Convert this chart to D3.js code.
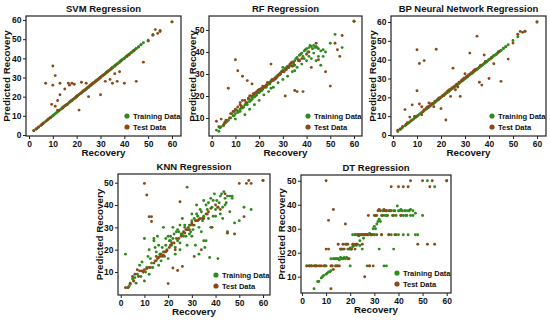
<!DOCTYPE html>
<html>
<head>
<meta charset="utf-8">
<script src="https://cdn.jsdelivr.net/npm/d3@7"></script>
<style>
  body { margin: 0; background: #fff; }
  svg text { font-family: "Liberation Sans", Arial, sans-serif; font-weight: bold; }
</style>
</head>
<body>
<div id="chart"></div>
<script>
// actual recovery values (shared by all models)
const trainRecovery = [2,3,3.5,4,5,5.5,6,7,8,8.5,9,10,10.5,11,12,12.5,13,14,15,15.5,16,17,17.5,18,19,19.5,20,21,21.5,22,23,23.5,24,25,25.5,26,27,27.5,28,29,29.5,30,31,31.5,32,33,33.5,34,35,35.5,36,37,37.5,38,39,39.5,40,41,41.5,42,43,43.5,44,45,46,47,48,50,52,55,60,14,18,20,22,24,26,28,30,32,34,36,38,40,42,44,46,10,16,25,
  6.5,9.5,11.5,13.5,14.5,16.5,18.5,20.5,22.5,24.5,26.5,28.5,30.5,32.5,34.5,36.5,38.5,40.5,42.5,44.5,12,15,17,19,21,23,25,27,29,31,33,35,37,39,41,43,45,47,30,35];
const testRecovery = [2,4,5,6,7,8,9,10,10,11,11,12,12,13,13,14,15,16,17,18,19,20,21,22,23,24,25,26,27,28,29,30,31,32,33,34,35,36,37,38,40,42,45,48,50,52,53,55,54,60,15.5,17.5,19.5,21.5,23.5,25.5,27.5,29.5,31.5,33.5,
  3,5.5,7.5,9.5,12.5,14.5,16.5,18.5,20.5,22.5,24.5,26.5,28.5,30.5,32.5,34.5,36.5,38.5,41,44];

// predicted recovery, training set
const svmTrainPred = [2.2,3.1,3.6,4.1,5.1,5.6,6.1,7.1,8.1,8.6,9.1,10.1,10.6,11.1,12.1,12.6,13.1,14.1,15.1,15.6,16.1,17.1,17.6,18.1,19.1,19.6,20.1,21.1,21.6,22.1,23.1,23.6,24.1,25.1,25.6,26.1,27.1,27.6,28.1,29.1,29.6,30.1,31.1,31.6,32.1,33.1,33.6,34.1,35.1,35.6,36.1,37.1,37.6,38.1,39.1,39.6,40.1,41.1,41.6,42.1,43.1,43.6,44.1,45.1,46.1,47.1,48.1,49.5,52.5,54.5,59,13.9,17.9,19.9,21.9,23.9,25.9,27.9,29.9,31.9,33.9,35.9,37.9,39.9,41.9,43.9,45.9,9.9,15.9,24.9,
  6.6,9.6,11.6,13.6,14.6,16.6,18.6,20.6,22.6,24.6,26.6,28.6,30.6,32.6,34.6,36.6,38.6,40.6,42.6,44.6,12.1,15.1,17.1,19.1,21.1,23.1,25.1,27.1,29.1,31.1,33.1,35.1,37.1,39.1,41.1,43.1,45.1,47.1,30.1,35.1];
const rfTrainPred = [4.5,4,5.5,6,6.5,7.5,8,9,10,12,11,12,13.5,12.5,14,15.5,14.5,16,17,18.5,17.5,19,20,19.5,21,22,21.5,22.5,23,24,24.5,25,25.5,26.5,27,27.5,28,29,29.5,30.5,31,31.5,32.5,33,33.5,34.5,35,35.5,36,37,37.5,38.5,39,39.5,40.5,41,41.5,42,43,42.5,43,42,42.5,41.5,40.5,41,40,44,48,42,54,11.5,16,18,20.5,22,24,26,27.5,29,31,33,34.5,36,37,36,34,9.5,14,23.5,
  8.5,11,13,15,16.5,18,20,22,24,25.5,27.5,30,31,33,34,36,38,40,41.5,42,13,16,18.5,20.5,22.5,24,27,28.5,30,32,34,34,36,37,38,39.5,38,38,33,31.5];
const bpTrainPred = [1.8,2.9,3.4,4,4.9,5.4,6,6.9,8,8.4,9,9.9,10.4,11,11.9,12.4,13,13.9,14.9,15.4,16,16.9,17.4,18,18.9,19.4,20,20.9,21.4,22,22.9,23.4,24,24.9,25.4,26,26.9,27.4,28,28.9,29.4,30,30.9,31.4,32,32.9,33.4,34,34.9,35.4,36,36.9,37.4,38,38.9,39.4,40,40.9,41.4,42,42.9,43.4,44,44.9,45.9,46.9,47.9,50.2,52.2,55.1,60,14.1,18.1,20.1,22.1,24.1,26.1,28.1,30.1,32.1,34.1,36.1,38.1,40.1,42.1,44.1,46.1,10.1,16.1,25.1,
  6.4,9.4,11.4,13.4,14.4,16.4,18.4,20.4,22.4,24.4,26.4,28.4,30.4,32.4,34.4,36.4,38.4,40.4,42.4,44.4,11.9,14.9,16.9,18.9,20.9,22.9,24.9,26.9,28.9,30.9,32.9,34.9,36.9,38.9,40.9,42.9,44.9,46.9,29.9,34.9];
const knnTrainPred = [18,3,3.5,4.5,7,6,7.5,9,13,8,14.5,25,10,12,20,16,14,24,15,26,22,18,21,19,25,20,26,24,22,25,18,28,24,20,27,27,30,26,48,31,28,33,34,22,36,18,38,37,42,21,40,41,16.5,43,35,45,35,16,41,44,39,46,43,44,44,43,32,33,39,38,51,25,30,16,30,29,34,22,26,40,28,24,30,38,36,40,37,6,13,31,
  5,10,17,12,21,18,17,24,27,28,26,30,29,35,33,38,39,42,45,41,9,19,15,22,26,21,23,31,27,31,30,35,34,42,39,34,28,44,36,24];
const dtTrainPred = [14.5,14.5,14.5,14.5,5,14.5,14.5,8,9.5,10,10.5,11,11.5,12,17.5,14.5,17.5,17.5,17.5,17,18,17.5,18,17.5,21.5,21.5,22,22.5,23,27.5,27.5,27,25,27.5,26,27.5,27.5,27.5,28,27.5,30,31,32,33,34,35.5,37.5,37.5,37.5,35.5,37.5,37.5,35.5,37.5,35.5,39.5,37.5,35.5,37.5,35.5,37.5,35.5,37.5,35.5,37.5,36.5,27.5,35.5,50,47.5,50,14.5,23.5,14.5,27.5,23,27.5,14.5,27.5,21.5,14.5,27.5,21.5,27.5,27.5,27.5,35.5,14.5,21.5,21.5,
  8,14.5,12,17.5,17.5,17.5,18,21.5,23,27.5,27.5,27.5,30,33,35.5,37.5,37.5,37.5,37.5,37.5,12.5,14.5,21.5,17.5,27.5,23.5,27.5,14.5,27.5,35.5,27.5,35.5,27.5,27.5,38,35.5,38,27.5,27.5,14.5];

// predicted recovery, test set
const svmTestPred = [2.3,4.2,5,6.2,27,8.3,9,36,26,31,15,18,13,27,21,14.2,24,16,26,27,26.5,20.3,13,27.5,23,27,20,26.2,27,28.2,29,21,31,28,33,29,27,32,28,33,27,42,28,38,49,52,55,54,53,59,15.5,17.6,19.4,21.6,23.5,25.6,27.4,29.6,31.5,33.6,
  3.1,5.6,7.6,16,12.6,14.6,27,18.6,20.6,22.6,24.6,26.6,28.6,30.6,32.6,34.6,36.6,38.6,41.1,44.1];
const rfTestPred = [8.5,9.5,7,9,23.5,12,13,36.5,14,31.5,15,17,16,29,18,18,27,20,25.5,21,22,23,23.5,24,25,26,34.5,27,28,29.5,30,31.5,20,33,34,33.5,22.5,22,36,37,39,33,36.5,31,24.5,44,41,47.5,38,54,19,21,22.5,24.5,26,27.5,28.5,31,32,35,
  6,8,10,13,15,17,20,21.5,23,24.5,26,28,29.5,31,33,35,36.5,22,40,44];
const bpTestPred = [2.5,4.5,13.5,6.5,9.5,16,9.8,45.3,23.5,38,16.5,15,10.7,39.5,13.5,14.5,17,16.5,15,45.5,19.5,14,21,8,23.5,20.5,35.5,24,25.5,20.5,29.5,32.5,31,43.5,33,34.5,52.5,28,26.5,42.5,30,37.8,28.5,40.3,48.8,53.5,55,55,54.5,60,15.6,18,19.8,21.8,24,25.8,28,30.2,32,34,
  3.2,5.7,7.6,9.6,12.4,15,16.8,18.8,20.8,23,25,27,29,31,33,35,37,39,41,44.2];
const knnTestPred = [3,5,8,9,11,10.5,10.5,49.7,11,44.5,11.5,34.8,12,34.8,32.6,14,17,16.5,18,17.5,19,4.8,22,11.8,20,10.7,41.5,12.5,27.5,29,29,32,17,33,33.5,20,34,36,37,38.5,40,38,27.4,27,49.7,34.8,49.7,49.7,51,51,16,17,19.5,23,25,26,29,31,33,34,
  3,6,8,10,12,15,17,19,21,23,25,28,29,31,33,34,36,30,39,45];
const dtTestPred = [14.5,14.5,14.5,14.5,14.5,14.5,14.5,50,21.5,33.5,21.5,14.5,5,38,13,14.5,23.5,21.5,23.5,32,23.5,21.5,23.5,21.5,27.5,27.5,23.5,10,27.5,14.5,27.5,35.5,27.5,38,27.5,38,37.5,27.5,47.5,35.5,47.5,47.5,50,23.5,50,23.5,47.5,23.5,50,50,14.5,21.5,17.5,23.5,27.5,27.5,35.5,14.5,37.5,35.5,
  14.5,14.5,14.5,14.5,14.5,14.5,21.5,23.5,21.5,23.5,27.5,27.5,27.5,35.5,37.5,37.5,37.5,27.5,35.5,47.5];

const xTickValues = [0, 10, 20, 30, 40, 50, 60];
const yTicksFull = [0, 10, 20, 30, 40, 50, 60];
const yTicksShort = [10, 20, 30, 40, 50];
const legendLabels = ['Training Data', 'Test Data'];

const trainColor = '#2f8a1c';
const testColor = '#8a4a18';

const panels = [
  { title: 'SVM Regression', train: svmTrainPred, test: svmTestPred,
    x0: 26, x1: 181, y0: 16, y1: 136, xd: [-1.26, 63.78], yd: [-0.52, 62.09], yt: yTicksFull, ly: 7 },
  { title: 'RF Regression', train: rfTrainPred, test: rfTestPred,
    x0: 209, x1: 362, y0: 16, y1: 136, xd: [-1.14, 63.37], yd: [1.82, 56.36], yt: yTicksShort, ly: 192.5 },
  { title: 'BP Neural Network Regression', train: bpTrainPred, test: bpTestPred,
    x0: 391, x1: 546, y0: 16, y1: 136, xd: [-0.83, 63.75], yd: [-0.53, 63.19], yt: yTicksFull, ly: 372.5 },
  { title: 'KNN Regression', train: knnTrainPred, test: knnTestPred,
    x0: 118, x1: 270, y0: 174, y1: 295, xd: [-1.14, 62.95], yd: [-0.3, 53.9], yt: yTicksShort, ly: 100 },
  { title: 'DT Regression', train: dtTrainPred, test: dtTestPred,
    x0: 301, x1: 451, y0: 175, y1: 293, xd: [-0.41, 61.78], yd: [3.2, 52.4], yt: yTicksShort, ly: 281.5 }
];

const svg = d3.select('#chart').append('svg')
  .attr('width', 550)
  .attr('height', 321);

panels.forEach(p => {
  const x = d3.scaleLinear().domain(p.xd).range([p.x0, p.x1]);
  const y = d3.scaleLinear().domain(p.yd).range([p.y1, p.y0]);
  const g = svg.append('g');

  // axes
  g.append('g')
    .attr('transform', 'translate(0,' + p.y1 + ')')
    .call(d3.axisBottom(x).tickValues(xTickValues).tickSize(3).tickPadding(1.5).tickSizeOuter(0))
    .call(a => a.select('.domain').remove())
    .selectAll('text').attr('font-size', 8.5).attr('fill', '#111');

  g.append('g')
    .attr('transform', 'translate(' + p.x0 + ',0)')
    .call(d3.axisLeft(y).tickValues(p.yt).tickSize(3).tickPadding(1.5).tickSizeOuter(0))
    .call(a => a.select('.domain').remove())
    .selectAll('text').attr('font-size', 8.5).attr('fill', '#111');

  g.selectAll('.tick line').attr('stroke', '#222');

  // points: training first, test on top
  g.append('g').selectAll('circle')
    .data(trainRecovery.map((r, i) => [r, p.train[i]]))
    .enter().append('circle')
    .attr('cx', d => x(d[0]))
    .attr('cy', d => y(d[1]))
    .attr('r', 1.45)
    .attr('fill', trainColor);

  g.append('g').selectAll('circle')
    .data(testRecovery.map((r, i) => [r, p.test[i]]))
    .enter().append('circle')
    .attr('cx', d => x(d[0]))
    .attr('cy', d => y(d[1]))
    .attr('r', 1.45)
    .attr('fill', testColor);

  // frame
  g.append('rect')
    .attr('x', p.x0).attr('y', p.y0)
    .attr('width', p.x1 - p.x0).attr('height', p.y1 - p.y0)
    .attr('fill', 'none')
    .attr('stroke', '#222')
    .attr('stroke-width', 1.2);

  // titles
  g.append('text')
    .attr('x', (p.x0 + p.x1) / 2)
    .attr('y', p.y0 - 4)
    .attr('text-anchor', 'middle')
    .attr('font-size', 9.5)
    .attr('fill', '#111')
    .text(p.title);

  g.append('text')
    .attr('x', (p.x0 + p.x1) / 2)
    .attr('y', p.y1 + 20)
    .attr('text-anchor', 'middle')
    .attr('font-size', 9.8)
    .attr('fill', '#111')
    .text('Recovery');

  g.append('text')
    .attr('transform', 'translate(' + (p.ly + 3) + ',' + ((p.y0 + p.y1) / 2) + ') rotate(-90)')
    .attr('text-anchor', 'middle')
    .attr('font-size', 9.8)
    .attr('fill', '#111')
    .text('Predicted Recovery');

  // legend
  const lg = g.append('g')
    .attr('transform', 'translate(' + (p.x1 - 54) + ',' + (p.y1 - 20) + ')');
  legendLabels.forEach((lab, i) => {
    lg.append('circle')
      .attr('cx', 0).attr('cy', i * 11)
      .attr('r', 2.6)
      .attr('fill', i === 0 ? trainColor : testColor);
    lg.append('text')
      .attr('x', 6).attr('y', i * 11 + 2.7)
      .attr('font-size', 7.5)
      .attr('fill', '#111')
      .text(lab);
  });
});
</script>
</body>
</html>
